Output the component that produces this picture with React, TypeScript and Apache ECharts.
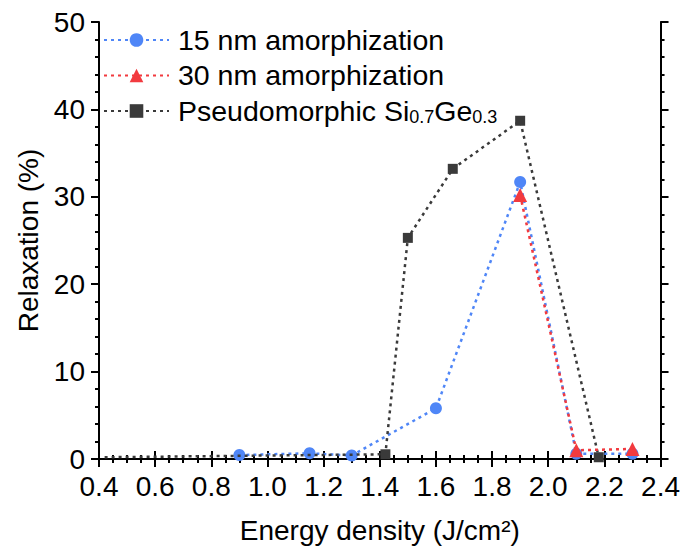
import React, { useEffect, useRef } from "react";
import * as echarts from "echarts";

const blueName = "15 nm amorphization";
const redName = "30 nm amorphization";
const blackName = "Pseudomorphic Si0.7Ge0.3";

const blueX = [0.9, 1.15, 1.3, 1.6, 1.9, 2.1, 2.3];
const blueY = [0.45, 0.65, 0.4, 5.8, 31.7, 0.6, 0.6];

const redX = [1.9, 2.1, 2.3];
const redY = [30.2, 1.0, 1.15];

const blackX = [0.42, 1.42, 1.5, 1.66, 1.9, 2.18];
const blackY = [0.2, 0.54, 25.3, 33.2, 38.7, 0.2];

const xTicks = { min: 0.4, max: 2.4, interval: 0.2 };
const yTicks = { min: 0, max: 50, interval: 10 };

const FONT = "'Liberation Sans', Arial, sans-serif";

function pairs(xs: number[], ys: number[]) {
  return xs.map((x, i) => [x, ys[i]]);
}

export default function App() {
  const ref = useRef<HTMLDivElement>(null);
  useEffect(() => {
    if (!ref.current) return;
    const chart = echarts.init(ref.current, undefined, { renderer: "svg" });
    const axisLine = { show: true, lineStyle: { color: "#000", width: 2 } };
    const axisTick = { show: true, inside: false, length: 8, lineStyle: { color: "#000", width: 2 } };
    const minorTick = { show: true, length: 4, lineStyle: { color: "#000", width: 2 } };
    const lineType = [3, 4];
    chart.setOption({
      animation: false,
      backgroundColor: "#fff",
      grid: { left: 99, right: 20, top: 22, bottom: 92, containLabel: false },
      legend: {
        orient: "vertical",
        left: 98,
        top: 20,
        itemWidth: 65,
        itemHeight: 17,
        itemGap: 6.5,
        data: [blueName, redName, blackName],
        formatter: (name: string) =>
          name === blackName
            ? "{f|Pseudomorphic Si}{s|0.7}{t|Ge}{s|0.3}"
            : "{f|" + name + "}",
        textStyle: {
          fontFamily: FONT,
          color: "#000",
          rich: {
            f: { fontSize: 28.5, lineHeight: 30, verticalAlign: "top", fontFamily: FONT, color: "#000", padding: [0, 0, 0, 4] },
            t: { fontSize: 28.5, lineHeight: 30, verticalAlign: "top", fontFamily: FONT, color: "#000" },
            s: { fontSize: 18, lineHeight: 18, padding: [12, 0, 0, 0], verticalAlign: "bottom", fontFamily: FONT, color: "#000" },
          },
        },
      },
      xAxis: [
        {
          type: "value",
          position: "bottom",
          ...xTicks,
          name: "Energy density (J/cm²)",
          nameLocation: "middle",
          nameGap: 57,
          nameTextStyle: { fontFamily: FONT, fontSize: 28, color: "#000" },
          axisLine,
          axisTick,
          minorTick: { ...minorTick, splitNumber: 4 },
          splitLine: { show: false },
          axisLabel: {
            margin: 13,
            fontFamily: FONT,
            fontSize: 28,
            color: "#000",
            formatter: (v: number) => v.toFixed(1),
          },
        },
        {
          type: "value",
          position: "top",
          ...xTicks,
          axisLine,
          axisTick,
          minorTick: { ...minorTick, splitNumber: 4 },
          splitLine: { show: false },
          axisLabel: { show: false },
        },
      ],
      yAxis: [
        {
          type: "value",
          position: "left",
          ...yTicks,
          name: "Relaxation (%)",
          nameLocation: "middle",
          nameGap: 57,
          nameTextStyle: { fontFamily: FONT, fontSize: 28, color: "#000" },
          axisLine,
          axisTick,
          minorTick: { ...minorTick, splitNumber: 5 },
          splitLine: { show: false },
          axisLabel: { margin: 14, fontFamily: FONT, fontSize: 28, color: "#000" },
        },
        {
          type: "value",
          position: "right",
          ...yTicks,
          axisLine,
          axisTick,
          minorTick: { ...minorTick, splitNumber: 5 },
          splitLine: { show: false },
          axisLabel: { show: false },
        },
      ],
      series: [
        {
          name: blueName,
          type: "line",
          z: 2,
          data: pairs(blueX, blueY),
          symbol: "circle",
          symbolSize: 12,
          itemStyle: { color: "#4f86f7" },
          lineStyle: { color: "#4f86f7", width: 2.5, type: lineType },
        },
        {
          name: blackName,
          type: "line",
          z: 3,
          data: pairs(blackX, blackY),
          symbol: "rect",
          symbolSize: (_v: any, p: any) => (p.dataIndex === 0 ? 0 : 10),
          itemStyle: { color: "#3a3a3a" },
          lineStyle: { color: "#3a3a3a", width: 2.5, type: lineType },
        },
        {
          name: redName,
          type: "line",
          z: 4,
          data: pairs(redX, redY),
          symbol: "triangle",
          symbolSize: 14,
          itemStyle: { color: "#f23a3f" },
          lineStyle: { color: "#f23a3f", width: 2.5, type: lineType },
        },
      ],
    });
    return () => chart.dispose();
  }, []);
  return <div ref={ref} style={{ width: 683, height: 551, position: "absolute", left: 0, top: 0 }} />;
}
